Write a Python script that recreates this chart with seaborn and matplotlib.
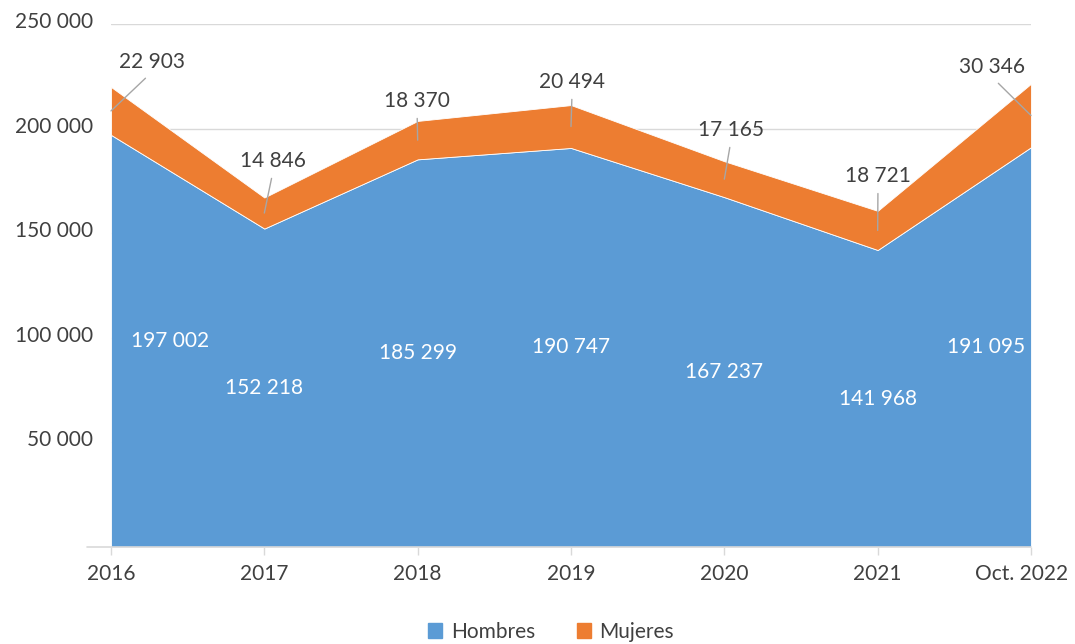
import numpy as np
import pandas as pd
import matplotlib
matplotlib.use("Agg")
import matplotlib.pyplot as plt
import matplotlib.transforms as mtransforms
from matplotlib.patches import Patch
import seaborn as sns

# ==================================
# DATA
# ==================================
years = ["2016", "2017", "2018", "2019", "2020", "2021", "Oct. 2022"]
hombres = [197002, 152218, 185299, 190747, 167237, 141968, 191095]
mujeres = [22903, 14846, 18370, 20494, 17165, 18721, 30346]
y_ticks = [50000, 100000, 150000, 200000, 250000]

df = pd.DataFrame({"year": years, "Hombres": hombres, "Mujeres": mujeres})
df["x"] = np.arange(len(df))

# ==================================
# STYLE
# ==================================
sns.set_theme(style="white")
plt.rcParams["font.family"] = ["Lato", "DejaVu Sans"]
FS = 15
TEXT = "#404040"
GRID = "#d9d9d9"
BLUE = "#5b9bd5"
ORANGE = "#ed7d31"

def fmt(v):
    return f"{v:,}".replace(",", " ")

fig = plt.figure(figsize=(10.75, 6.44), dpi=100)
ax = fig.add_axes([111 / 1075, 1 - 547 / 644, 920 / 1075, 523 / 644])

# ==================================
# AREAS
# ==================================
ax.stackplot(df["x"], df["Hombres"], df["Mujeres"], colors=[BLUE, ORANGE],
             edgecolor="white", linewidth=0.6, zorder=2)

ax.set_xlim(0, len(df) - 1)
ax.set_ylim(0, 250000)
ax.set_yticks(y_ticks)
ax.set_yticklabels([fmt(v) for v in y_ticks])
ax.set_xticks(df["x"])
ax.set_xticklabels(df["year"])
ax.grid(axis="y", color=GRID, linewidth=1, zorder=0)
ax.set_axisbelow(True)
sns.despine(ax=ax, left=True, bottom=True)

ax.tick_params(axis="y", length=0, pad=13, labelsize=FS, labelcolor=TEXT)
ax.tick_params(axis="x", length=6, width=1, color=GRID, direction="out",
               pad=6, labelsize=FS, labelcolor=TEXT, bottom=True)
shift = mtransforms.ScaledTranslation(0, 4 / 100, fig.dpi_scale_trans)
for lbl in ax.get_yticklabels():
    lbl.set_transform(lbl.get_transform() + shift)
# keep last category label inside the figure
last = ax.get_xticklabels()[-1]
last.set_transform(last.get_transform() +
                   mtransforms.ScaledTranslation(-9 / 100, 0, fig.dpi_scale_trans))

# baseline extends left of the plot
trans = mtransforms.blended_transform_factory(ax.transAxes, ax.transData)
ax.plot([-0.026, 1], [0, 0], color=GRID, lw=1.2, transform=trans,
        clip_on=False, zorder=3)

# ==================================
# LABELS
# ==================================
n = len(df)
for i, row in df.iterrows():
    # white labels inside Hombres area
    xi = row["x"]
    if i == 0:
        xi += 0.385
    elif i == n - 1:
        xi -= 0.29
    ax.text(xi, row["Hombres"] / 2, fmt(row["Hombres"]), color="white",
            fontsize=FS, ha="center", va="center", zorder=4)

# Mujeres labels with leader lines (label offsets in x-units / values)
lab_dx = [0.267, 0.057, -0.004, 0.007, 0.044, 0.002, -0.254]
lab_y = [231800, 184500, 213200, 222300, 199300, 177300, 229400]
for i, row in df.iterrows():
    anchor = (row["x"], row["Hombres"] + row["Mujeres"] / 2)
    ax.annotate(fmt(row["Mujeres"]), xy=anchor,
                xytext=(row["x"] + lab_dx[i], lab_y[i]),
                ha="center", va="center", fontsize=FS, color=TEXT,
                annotation_clip=False, zorder=5,
                arrowprops=dict(arrowstyle="-", color="#a6a6a6", lw=1,
                                relpos=(0.5, 0), shrinkA=3, shrinkB=0))

# ==================================
# LEGEND
# ==================================
handles = [Patch(color=BLUE, label="Hombres"), Patch(color=ORANGE, label="Mujeres")]
leg = fig.legend(handles=handles, loc="center", bbox_to_anchor=(551 / 1075, 0.019),
                 ncol=2, frameon=False, fontsize=FS, handlelength=0.7,
                 handleheight=0.7, handletextpad=0.4, columnspacing=2.0)
for t in leg.get_texts():
    t.set_color(TEXT)

fig.savefig("out.png", dpi=100)
